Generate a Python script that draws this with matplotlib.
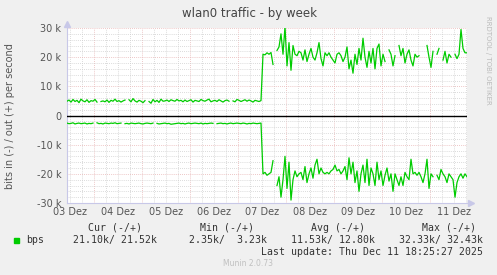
import numpy as np
import matplotlib
matplotlib.use("Agg")
import matplotlib.pyplot as plt
from matplotlib.patches import Rectangle

nan = float("nan")

# hourly samples (kbit/s), first sample at 03 Dez 10:25
out_before = [4.9, 5.3, 4.6, 5.5, 4.8, 5.2, 4.4, 5.6, 5.0, 4.7, 5.4, 4.5, 5.1, 4.9,
              5.5, 4.6, nan, 4.8, 5.0, 4.7, 5.3, 4.5, 5.2, 4.9, 5.6, 4.8, 5.1, 4.6,
              5.0, 5.3, nan, 5.4, 4.7, 5.8, 5.0, 4.6, 5.2, 4.9, 4.4, 5.1, nan, 4.8,
              4.2, 5.5, 4.7, 5.2, 4.5, 5.6, 4.9, 5.0, 5.3, 4.8, 5.4, 5.1, 4.9, 5.5,
              5.0, 5.2, 4.7, 5.3, 4.8, 5.1, 5.4, 4.6, 5.2, 5.0, 4.8, 5.5, 5.1, 4.9,
              5.3, 5.6, 4.7, 5.0, 5.2, 4.8, 5.4, 5.0, 4.6, 5.1, 5.3, 4.9, nan, 5.0,
              4.7, 5.5, 5.2, 4.8, 5.1, 5.4, 4.9, 5.3, 5.0, 4.6, 5.2, 5.0, 4.8, 5.1]
out_after = [21.0, 20.8, 21.5, 21.0, 21.6, 17.5, nan, 22.3, 23.5, 28.0, 21.0, 30.5,
             17.0, 25.0, 15.5, 24.0, 21.0, 20.5, 22.0, 21.5, 19.0, 22.5, 18.5, 21.0,
             23.0, 20.0, 19.0, 21.5, 25.0, 19.5, 17.0, 21.5, 20.5, 21.5, 20.0, 19.0,
             18.0, 21.0, 21.5, 20.5, 18.5, 20.0, 23.5, 16.0, 19.0, 14.5, 21.0, 17.5,
             23.0, 19.0, 26.5, 20.0, 16.5, 22.0, 18.0, 23.0, 16.0, 23.0, 24.5, 17.0,
             21.0, 18.5, nan, 22.5, 21.0, 17.0, 20.5, nan, 24.0, 20.5, 23.0, 18.0,
             21.0, 22.5, 19.0, 17.0, 21.0, 20.0, 20.5, nan, 19.5, nan, 24.0, 20.0,
             16.5, 22.0, nan, 21.0, 23.0, nan, 19.0, 22.0, 18.0, 21.0, 20.0, nan,
             21.0, 19.5, 21.0, 29.5, 23.0, 21.5, 21.5]

in_before = [-2.6, -2.8, -2.7, -2.5, -2.9, -2.7, -2.6, -2.8, -2.7, -2.6, -2.9, -2.7,
             -2.8, -2.6, nan, -2.5, -2.8, -2.7, -2.9, -2.6, -2.7, -2.8, -2.6, -2.7,
             -2.5, -2.8, -2.7, -2.6, nan, -2.8, -2.7, -2.9, -2.6, -2.7, -2.8, -2.7,
             -2.6, -2.8, -2.9, -2.7, -2.6, -2.7, -2.8, -2.6, nan, -2.7, -2.9, -2.8,
             -2.7, -2.6, -2.8, -2.7, -3.0, -2.9, -2.8, -2.7, -2.6, -2.8, -2.7, -2.9,
             -2.7, -2.6, -2.8, -2.7, -2.6, -2.7, -2.8, -2.6, -2.9, -2.7, -2.8, -2.7,
             -2.6, -2.7, nan, -2.8, -2.7, -2.6, -2.8, -2.7, -2.9, -2.7, -2.6, -2.8,
             -2.7, -2.6, -2.7, -2.8, -2.6, -2.7, -2.9, -2.7, -2.8, -2.6, -2.7, -2.8,
             -2.7, -2.6]
in_after = [-20.0, -19.5, -20.5, -20.0, -19.5, -15.5, nan, -24.0, -21.0, -28.0, -22.0,
            -14.0, -25.0, -16.0, -29.0, -22.0, -19.0, -21.0, -20.0, -19.5, -22.0, -17.5,
            -23.0, -20.0, -18.0, -21.5, -17.0, -15.0, -20.0, -18.0, -19.5, -20.0, -19.5,
            -20.0, -19.0, -18.5, -17.0, -19.0, -18.5, -20.0, -19.0, -17.5, -22.0, -14.5,
            -20.0, -16.0, -23.0, -19.0, -26.0, -20.0, -17.0, -23.0, -15.0, -24.0, -18.0,
            -20.0, -24.0, -16.0, -22.0, -19.0, -24.0, -20.5, -18.0, -22.5, -20.0, -26.0,
            -20.0, -22.0, -24.0, -21.0, -24.0, -19.5, -21.0, -22.0, -15.0, -20.0, -19.5,
            -20.5, -19.5, -21.0, -23.0, -20.0, -15.0, -25.0, -20.0, -21.0, nan, -20.5,
            -22.0, -18.5, -20.0, -21.0, -23.0, -20.0, -21.0, -22.0, -28.0, -23.0, -21.0,
            -20.0, -21.5, -20.0, -21.0]

day_labels = ["03 Dez", "04 Dez", "05 Dez", "06 Dez", "07 Dez",
              "08 Dez", "09 Dez", "10 Dez", "11 Dez"]
y_ticks = [-30000, -20000, -10000, 0, 10000, 20000, 30000]
y_labels = ["-30 k", "-20 k", "-10 k", "0", "10 k", "20 k", "30 k"]

hdr = ["Cur (-/+)", "Min (-/+)", "Avg (-/+)", "Max (-/+)"]
vals = ["21.10k/ 21.52k", "2.35k/  3.23k", "11.53k/ 12.80k", "32.33k/ 32.43k"]

# time axis in days since 03 Dez 00:00
start = 10.42 / 24
out_k = np.array(out_before + out_after) * 1000
in_k = np.array(in_before + in_after) * 1000
t = start + np.arange(len(out_k)) / 24.0
end = t[-1]

W, H = 497, 275
fig = plt.figure(figsize=(W / 100, H / 100), dpi=100)
fig.patch.set_facecolor("#f0f0f0")
ax = fig.add_axes([67 / W, 1 - 203 / H, 400 / W, 175 / H])
ax.set_facecolor("white")

ax.set_xlim(start, end)
ax.set_ylim(-30000, 30000)

grey = "#cfcfcf"
red = "#e8b4b4"
for d in np.arange(0, 9.01, 0.25):
    if start <= d <= end:
        col = red if abs(d - round(d)) < 1e-6 else grey
        ax.axvline(d, color=col, lw=0.6, ls=(0, (1, 1.5)), zorder=1)
for v in range(-30000, 30001, 2000):
    col = red if v % 10000 == 0 else grey
    ax.axhline(v, color=col, lw=0.6, ls=(0, (1, 1.5)), zorder=1)

ax.plot(t, out_k, color="#00cc00", lw=0.9, zorder=3)
ax.plot(t, in_k, color="#00cc00", lw=0.9, zorder=3)
ax.axhline(0, color="black", lw=1.0, zorder=4)

for s in ["top", "right"]:
    ax.spines[s].set_visible(False)
for s in ["left", "bottom"]:
    ax.spines[s].set_color("#c8c8e8")
    ax.spines[s].set_linewidth(0.8)
ax.plot([start], [31300], marker="^", ms=4, color="#c8c8e8", clip_on=False)
ax.plot([end + 0.08], [-30000], marker=">", ms=4, color="#c8c8e8", clip_on=False)

ax.set_xticks(np.arange(9) + 0.5)
ax.set_xticklabels(day_labels)
ax.set_yticks(y_ticks)
ax.set_yticklabels(y_labels)
ax.tick_params(axis="both", length=0, labelsize=7, colors="#555555", pad=3)
ax.tick_params(axis="y", pad=4)

fig.text(250 / W, 1 - 14 / H, "wlan0 traffic - by week", ha="center", va="center",
         fontsize=8.5, color="#444444")
fig.text(10 / W, 1 - 116 / H, "bits in (-) / out (+) per second", rotation=90,
         ha="center", va="center", fontsize=7, color="#555555")
fig.text(488 / W, 1 - 60 / H, "RRDTOOL / TOBI OETIKER", rotation=270,
         ha="center", va="center", fontsize=5, color="#bbbbbb")

mono = "DejaVu Sans Mono"
hdr_right = [142, 254, 365, 476]
val_right = [157, 267, 375, 483]
for i in range(4):
    fig.text(hdr_right[i] / W, 1 - 228 / H, hdr[i], ha="right", va="center",
             family=mono, fontsize=7.1, color="#333333")
    fig.text(val_right[i] / W, 1 - 240 / H, vals[i], ha="right", va="center",
             family=mono, fontsize=7.1, color="#333333")
fig.patches.append(Rectangle((14 / W, 1 - 243 / H), 5 / W, 5 / H,
                             transform=fig.transFigure, color="#00cc00"))
fig.text(26 / W, 1 - 240 / H, "bps", ha="left", va="center",
         family=mono, fontsize=7.1, color="#333333")
fig.text(483 / W, 1 - 252 / H, "Last update: Thu Dec 11 18:25:27 2025", ha="right",
         va="center", family=mono, fontsize=7.1, color="#333333")
fig.text(248 / W, 1 - 264 / H, "Munin 2.0.73", ha="center", va="center",
         fontsize=5.5, color="#c0c0c0")

fig.savefig("out.png", dpi=100, facecolor=fig.get_facecolor())
